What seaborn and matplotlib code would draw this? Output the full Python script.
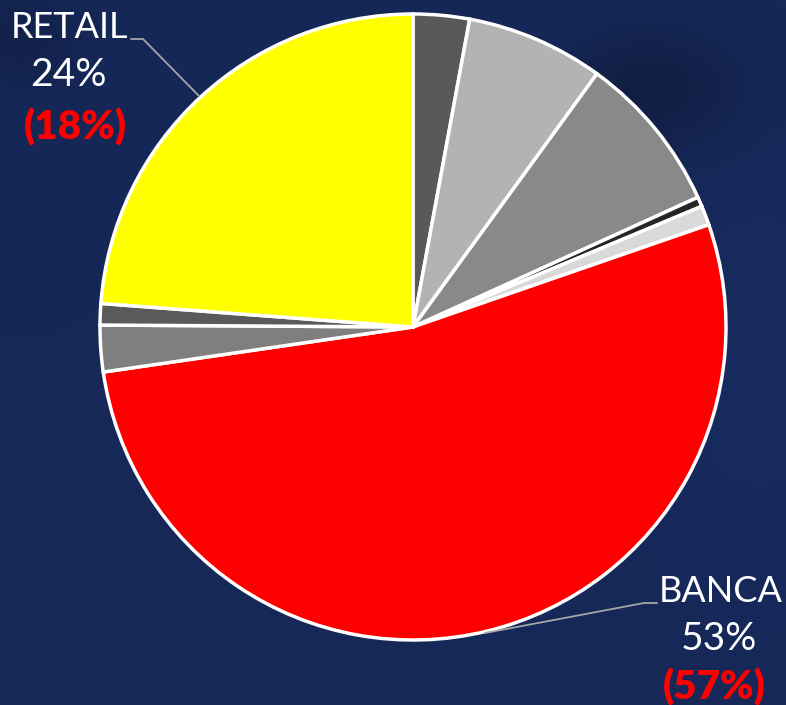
import numpy as np
import matplotlib
matplotlib.use("Agg")
import matplotlib.pyplot as plt
from matplotlib.lines import Line2D
import seaborn as sns

# slice shares in %, clockwise from 12 o'clock
segments = ["seg1", "seg2", "seg3", "seg4", "seg5", "BANCA", "seg7", "seg8", "RETAIL"]
shares = [2.9, 7.1, 8.2, 0.5, 1.0, 53.0, 2.4, 1.1, 23.8]
colors = ["#595959", "#b3b3b3", "#898989", "#262626", "#d9d9d9",
          "#ff0000", "#7f7f7f", "#5a5a5a", "#ffff00"]

label_names = ["RETAIL", "BANCA"]
label_pcts = ["24%", "53%"]
label_prev = ["(18%)", "(57%)"]

sns.set_theme(style="white")
plt.rcParams["font.family"] = ["Lato", "DejaVu Sans"]

W, H = 786, 705
fig = plt.figure(figsize=(W / 100, H / 100), dpi=100)

# navy background with soft shading
bg = fig.add_axes([0, 0, 1, 1])
yy, xx = np.mgrid[0:H, 0:W]
base = np.array([22, 40, 88]) / 255.0
shade = np.zeros((H, W))
shade += 0.25 * np.exp(-(((xx - 650) / 90) ** 2 + ((yy - 90) / 60) ** 2))
shade += 0.15 * np.exp(-(((xx - 20) / 60) ** 2 + ((yy - 40) / 50) ** 2))
shade -= 0.08 * np.exp(-(((xx - 760) / 120) ** 2 + ((yy - 350) / 200) ** 2))
img = np.clip(base[None, None, :] * (1 - shade[..., None]), 0, 1)
bg.imshow(img, aspect="auto", extent=[0, W, H, 0])
bg.set_axis_off()

cx, cy, r = 413, 327, 313
ax = fig.add_axes([(cx - r) / W, (H - cy - r) / H, 2 * r / W, 2 * r / H])
wedges, _ = ax.pie(shares, colors=colors, startangle=90, counterclock=False, radius=1,
                   wedgeprops=dict(edgecolor="white", linewidth=2.5))
for w in wedges:
    w.set_clip_on(False)
ax.set_xlim(-1, 1)
ax.set_ylim(-1, 1)
ax.set_axis_off()


def fx(px):
    return px / W


def fy(py):
    return 1 - py / H


# leader lines
lc = "#a6a6a6"
fig.add_artist(Line2D([fx(131), fx(143), fx(199)], [fy(39), fy(39), fy(96)],
                      color=lc, lw=1.3, transform=fig.transFigure))
fig.add_artist(Line2D([fx(657), fx(644), fx(485)], [fy(603), fy(603), fy(633)],
                      color=lc, lw=1.3, transform=fig.transFigure))

# labels
pos = [(70, 28, 75, 127), (721, 592, 714, 687)]
for name, pct, prev, (x, y, x2, y2) in zip(label_names, label_pcts, label_prev, pos):
    fig.text(fx(x), fy(y), name, color="white", fontsize=26, ha="center", va="center")
    fig.text(fx(x - 2), fy(y + 47), pct, color="white", fontsize=28, ha="center", va="center")
    fig.text(fx(x2), fy(y2), prev, color="#ff0000", fontsize=29, fontweight="heavy",
             ha="center", va="center")

fig.savefig("out.png", dpi=100)
